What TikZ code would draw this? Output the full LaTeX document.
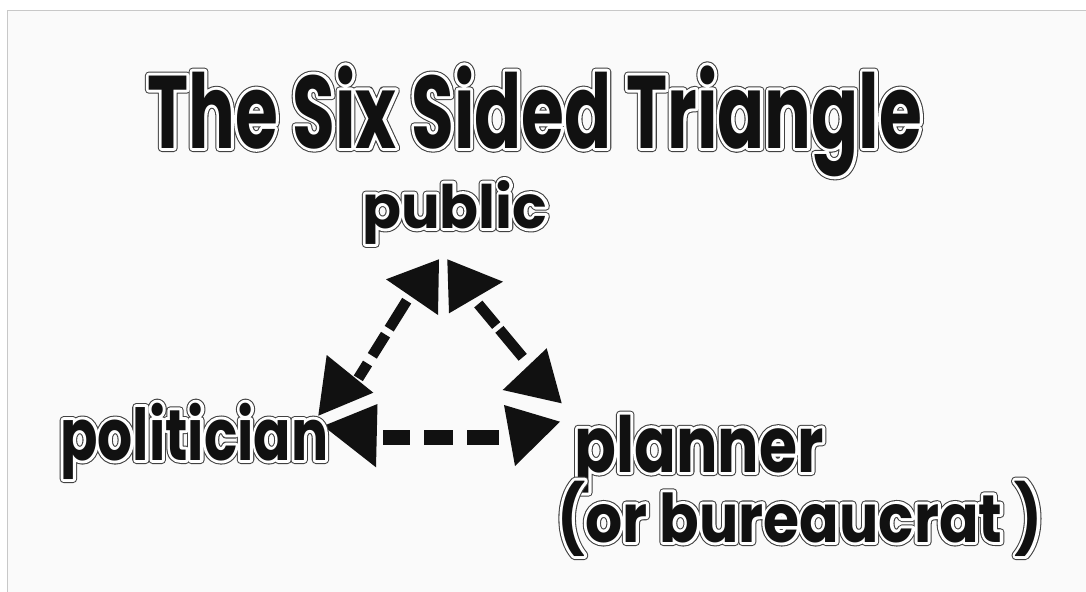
\documentclass[tikz,border=0pt]{standalone}
\usepackage{fontspec}
\newfontfamily\hand{Poppins}
\definecolor{paper}{HTML}{FAFAFA}
\definecolor{framegray}{HTML}{C8C8C8}
\definecolor{inkblack}{HTML}{111111}
\newlength\natw \newlength\nath
% #1 target width, #2 target height (both in pt, numbers), #3 text
\newcommand\mklbl[3]{%
  \setbox0\hbox{\fontsize{10pt}{12pt}\hand\bfseries #3}%
  \setlength\natw{\wd0}\setlength\nath{\ht0}%
  \pgfmathsetmacro\lsz{10*#2/\nath}%
  \pgfmathsetmacro\lst{#1/\natw*10/\lsz}%
  \fontsize{\lsz pt}{\lsz pt}\hand\bfseries\addfontfeatures{FakeStretch=\lst}%
  \rlap{\color{inkblack!80}\special{pdf:literal direct 2 Tr 6 w 1 j 1 J}#3\special{pdf:literal direct 0 Tr}}%
  \rlap{\color{white}\special{pdf:literal direct 1 Tr 4.4 w 1 j 1 J}#3\special{pdf:literal direct 0 Tr}}%
  {\color{inkblack}#3}}
\begin{document}
\begin{tikzpicture}[x=0.75pt,y=-0.75pt,
  label/.style={inner sep=0pt, anchor=base west},
  dashline/.style={line width=8pt, inkblack},
  head/.style={fill=inkblack}]
\useasboundingbox (0,0) rectangle (1086,592);
\fill[white] (0,0) rectangle (1086,592);
\fill[paper] (7.5,10.5) rectangle (1086,592);
\draw[framegray, line width=1.1pt] (7.5,592) -- (7.5,10.5) -- (1086,10.5);

% connector ends
\coordinate (L1) at (406.7,300.7); \coordinate (L2) at (358.3,378.3);
\coordinate (R1) at (478.3,304);   \coordinate (R2) at (522.7,357.3);
\coordinate (B1) at (383,437.5);   \coordinate (B2) at (499,437.5);

% dashed connectors
\draw[dashline, dash pattern=on 24.75pt off 5.25pt on 18.75pt off 6.75pt on 13.5pt off 20pt] (L1) -- (L2);
\draw[dashline, dash pattern=on 21pt off 3.75pt on 27.75pt off 20pt] (R1) -- (R2);
\draw[dashline, line width=11.25pt, dash pattern=on 20.25pt off 10.5pt on 21.75pt off 10.5pt on 24pt off 20pt] (B1) -- (B2);

% arrowheads
\fill[head] (386,279.3) -- (439,259.3) -- (438,315) -- cycle;
\fill[head] (447.3,259.3) -- (503,281.7) -- (449,313.3) -- cycle;
\fill[head] (326.7,355) -- (373.3,392.7) -- (318.3,415.7) -- cycle;
\fill[head] (323.3,426) -- (377.5,404) -- (376,467.3) -- cycle;
\fill[head] (502.7,390) -- (546.7,348.3) -- (561.7,403.3) -- cycle;
\fill[head] (504,405) -- (560,421.7) -- (515,466) -- cycle;

% labels
\node[label] (title) at (147,148) {\mklbl{581}{62}{The Six Sided Triangle}};
\node[label] (public) at (362,228) {\mklbl{139}{36}{public}};
\node[label] (politician) at (60,460) {\mklbl{201}{43}{politician}};
\node[label] (planner) at (574,472) {\mklbl{187}{43}{planner}};
\node[label] (bureaucrat) at (557,542) {\mklbl{364}{46}{(or bureaucrat )}};
\end{tikzpicture}
\end{document}
